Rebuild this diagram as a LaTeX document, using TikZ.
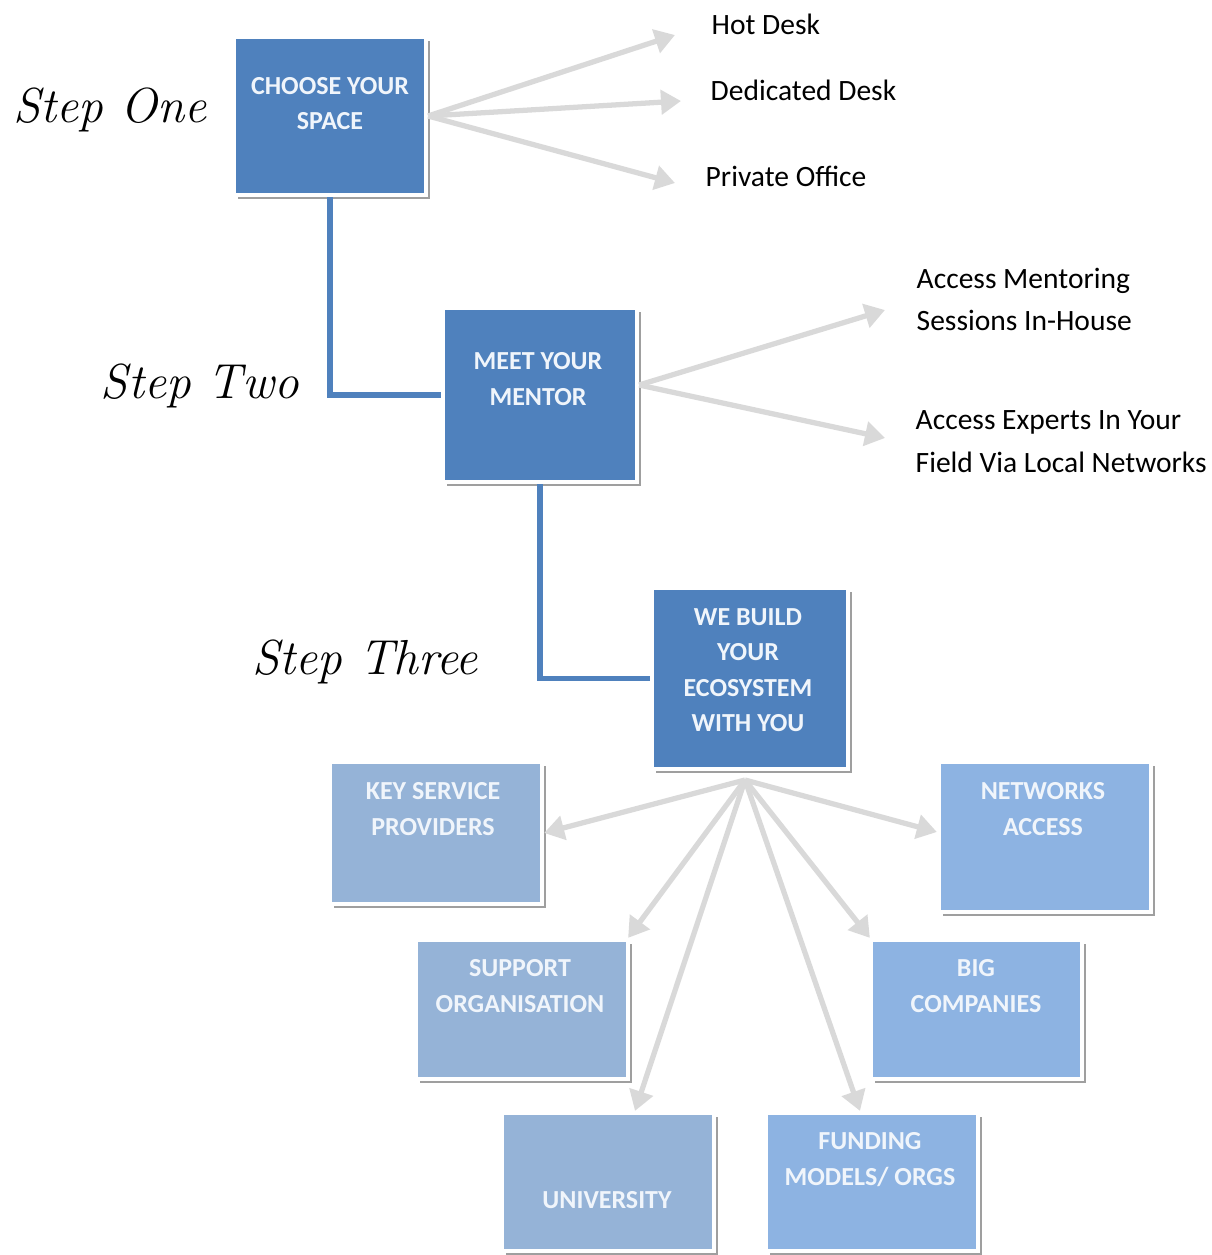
\documentclass[tikz,border=0pt]{standalone}
\usepackage{fontspec}
\newfontfamily\calibrifont{Carlito}
\usetikzlibrary{positioning,shadows,arrows.meta}
\definecolor{stepblue}{HTML}{4F81BD}
\definecolor{paleblueone}{HTML}{95B3D7}
\definecolor{palebluetwo}{HTML}{8DB3E2}
\definecolor{arrowgray}{HTML}{D9D9D9}
\definecolor{boxtextcol}{HTML}{F0F5FB}
\tikzset{
	boxshade/.style={drop shadow={shadow xshift=0.035cm,shadow yshift=-0.035cm,fill=gray!75,opacity=1}},
	darkbox/.style={rectangle,inner sep=0,fill=stepblue,draw=white,line width=1.2pt,boxshade},
	lightbox/.style={rectangle,inner sep=0,fill=#1,draw=white,line width=1.2pt,boxshade},
	boxtext/.style={text=boxtextcol,align=center,inner sep=0,font=\calibrifont\bfseries\fontsize{7.4}{10.1}\selectfont},
	sidelabel/.style={anchor=west,align=left,inner sep=0,font=\calibrifont\fontsize{8.4}{12.2}\selectfont},
	steplabel/.style={inner sep=0,font=\itshape\fontsize{14}{16}\selectfont},
	bluelink/.style={draw=stepblue,line width=1.6pt},
	grayarrow/.style={draw=arrowgray,line width=1.5pt,-{Triangle[length=0.2cm,width=0.24cm]}}
}
\begin{document}
\begin{tikzpicture}
			\useasboundingbox (0,0) rectangle (12.11,-12.55);
			%Step labels on the left
			\node [steplabel] (stepone) at (1.10,-1.10) {Step One};
			\node [steplabel] (steptwo) at (2.00,-3.86) {Step Two};
			\node [steplabel] (stepthree) at (3.65,-6.62) {Step Three};
			%Main boxes of the three steps
			\coordinate (center1) at (3.30,-1.16);
			\coordinate (center2) at (5.40,-3.95);
			\coordinate (center3) at (7.50,-6.785);
			\node [darkbox,minimum width=1.92cm,minimum height=1.58cm] (choose) at (center1) {};
			\node [darkbox,minimum width=1.94cm,minimum height=1.74cm] (mentor) at (center2) {};
			\node [darkbox,minimum width=1.96cm,minimum height=1.81cm] (ecosystem) at (center3) {};
			\node [boxtext] (choosetext) at (3.30,-1.035) {CHOOSE YOUR\\SPACE};
			\node [boxtext] (mentortext) at (5.38,-3.79) {MEET YOUR\\MENTOR};
			\node [boxtext] (ecosystemtext) at (7.48,-6.70) {WE BUILD\\YOUR\\ECOSYSTEM\\WITH YOU};
			%Blue links between the steps
			\draw [bluelink] (choose.south) |- (mentor.west);
			\draw [bluelink] (mentor.south) |- (ecosystem.west);
			%Step one options
			\node [sidelabel] (hotdesk) at (7.11,-0.24) {Hot Desk};
			\node [sidelabel] (dedicated) at (7.10,-0.90) {Dedicated Desk};
			\node [sidelabel] (private) at (7.05,-1.76) {Private Office};
			\coordinate (tiphot) at (6.75,-0.35);
			\coordinate (tipded) at (6.81,-1.01);
			\coordinate (tippriv) at (6.75,-1.83);
			\draw [grayarrow] (choose.east) -- (tiphot);
			\draw [grayarrow] (choose.east) -- (tipded);
			\draw [grayarrow] (choose.east) -- (tippriv);
			%Step two options
			\node [sidelabel] (mentoring) at (9.16,-2.995) {Access Mentoring\\Sessions In-House};
			\node [sidelabel] (experts) at (9.15,-4.415) {Access Experts In Your\\Field Via Local Networks};
			\coordinate (tipmentoring) at (8.85,-3.10);
			\coordinate (tipexperts) at (8.85,-4.38);
			\draw [grayarrow] ([yshift=0.1cm]mentor.east) -- (tipmentoring);
			\draw [grayarrow] ([yshift=0.1cm]mentor.east) -- (tipexperts);
			%Step three partners
			\node [lightbox=paleblueone,minimum width=2.12cm,minimum height=1.42cm] (keyservice) at (4.36,-8.33) {};
			\node [lightbox=palebluetwo,minimum width=2.12cm,minimum height=1.50cm] (networks) at (10.45,-8.37) {};
			\node [lightbox=paleblueone,minimum width=2.12cm,minimum height=1.39cm] (support) at (5.22,-10.095) {};
			\node [lightbox=palebluetwo,minimum width=2.11cm,minimum height=1.39cm] (bigcomp) at (9.765,-10.095) {};
			\node [lightbox=paleblueone,minimum width=2.12cm,minimum height=1.38cm] (university) at (6.08,-11.82) {};
			\node [lightbox=palebluetwo,minimum width=2.12cm,minimum height=1.38cm] (funding) at (8.72,-11.82) {};
			\node [boxtext] (keyservicetext) at (4.33,-8.09) {KEY SERVICE\\PROVIDERS};
			\node [boxtext] (networkstext) at (10.43,-8.09) {NETWORKS\\ACCESS};
			\node [boxtext] (supporttext) at (5.20,-9.86) {SUPPORT\\ORGANISATION};
			\node [boxtext] (bigcomptext) at (9.76,-9.86) {BIG\\COMPANIES};
			\node [boxtext] (universitytext) at (6.07,-12.00) {UNIVERSITY};
			\node [boxtext] (fundingtext) at (8.70,-11.595) {FUNDING\\MODELS/ ORGS};
			%Arrows from the ecosystem box
			\coordinate (hub) at (7.45,-7.80);
			\draw [grayarrow] (hub) -- (keyservice.east);
			\draw [grayarrow] (hub) -- ([xshift=-0.02cm]support.north east);
			\draw [grayarrow] (hub) -- ([xshift=0.27cm]university.north);
			\draw [grayarrow] (hub) -- ([xshift=-0.12cm]funding.north);
			\draw [grayarrow] (hub) -- ([xshift=0.01cm]bigcomp.north west);
			\draw [grayarrow] (hub) -- ([yshift=0.05cm]networks.west);
\end{tikzpicture}
\end{document}
